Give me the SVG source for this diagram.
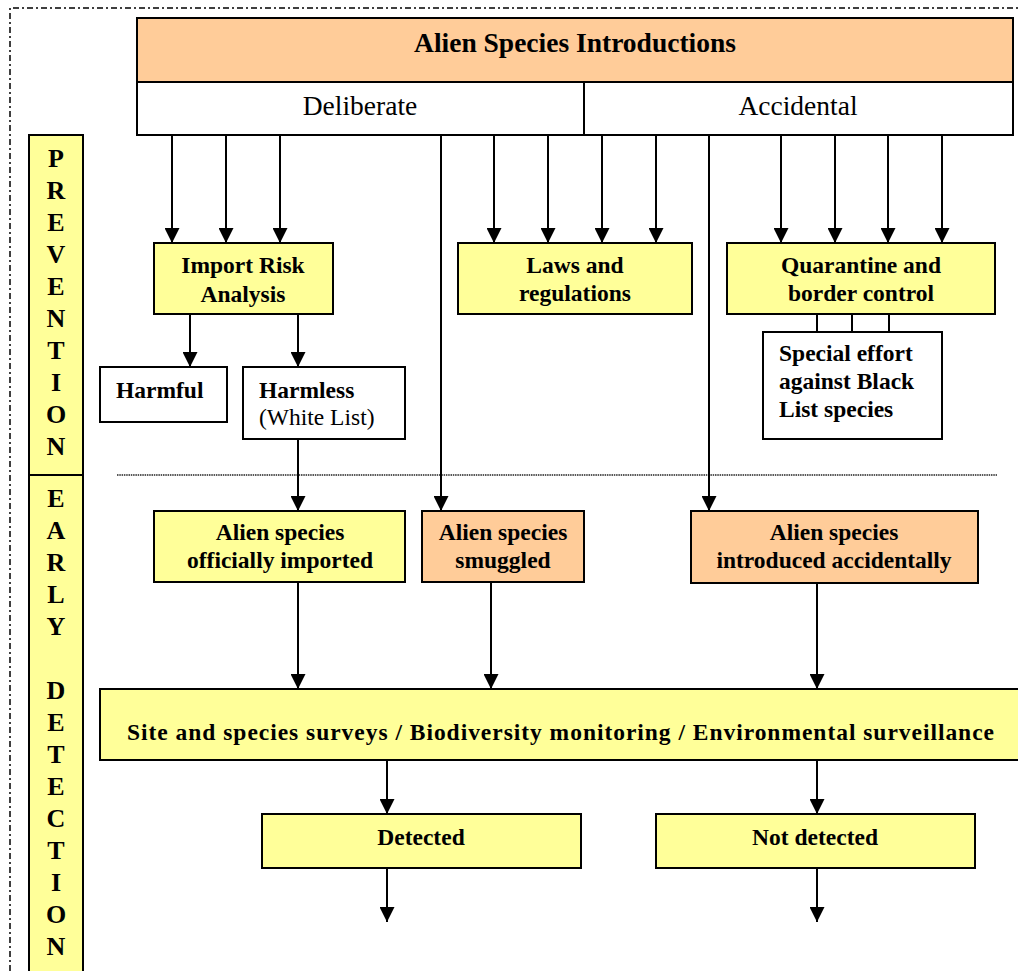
<svg xmlns="http://www.w3.org/2000/svg" width="1018" height="971" viewBox="0 0 1018 971">
<style>
text{font-family:"Liberation Serif","Times New Roman",serif;fill:#000}
.b{font-weight:bold;font-size:23.5px}
.t{font-weight:bold;font-size:27.5px}
.r{font-size:27.5px}
.s{font-weight:bold;font-size:26px}
.w{font-size:23.5px}
.box{stroke:#000;stroke-width:2}
.y{fill:#FFFF99}
.o{fill:#FFCC99}
.wh{fill:#fff}
.c line{stroke:#000;stroke-width:2}
</style>
<defs>
<marker id="ah" markerUnits="userSpaceOnUse" markerWidth="15" markerHeight="15" refX="15" refY="7.5" orient="auto">
<path d="M0,0 L15,7.5 L0,15 z" fill="#000"/>
</marker>
</defs>
<rect width="1018" height="971" fill="#fff"/>
<g id="frame">
<path d="M10,971 L10,8 L1018,8" fill="none" stroke="#000" stroke-width="1.5" stroke-dasharray="6 3 2 3"/>
<line x1="117" y1="475" x2="997" y2="475" stroke="#222" stroke-width="1.5" stroke-dasharray="1.5 0.8"/>
</g>
<g id="sidebar">
<rect class="box y" x="29" y="135" width="54" height="850"/>
<line x1="29" y1="475" x2="83" y2="475" stroke="#000" stroke-width="2"/>
<g class="s" text-anchor="middle">
<text x="56" y="167">P</text><text x="56" y="199">R</text><text x="56" y="231">E</text><text x="56" y="263">V</text><text x="56" y="295">E</text><text x="56" y="327">N</text><text x="56" y="359">T</text><text x="56" y="391">I</text><text x="56" y="423">O</text><text x="56" y="455">N</text>
<text x="56" y="507">E</text><text x="56" y="539">A</text><text x="56" y="571">R</text><text x="56" y="603">L</text><text x="56" y="635">Y</text>
<text x="56" y="699">D</text><text x="56" y="731">E</text><text x="56" y="763">T</text><text x="56" y="795">E</text><text x="56" y="827">C</text><text x="56" y="859">T</text><text x="56" y="891">I</text><text x="56" y="923">O</text><text x="56" y="955">N</text>
</g>
</g>
<g id="introductions">
<rect class="box o" x="137" y="18" width="876" height="64"/>
<rect class="box wh" x="137" y="82" width="876" height="53"/>
<line x1="584" y1="82" x2="584" y2="135" stroke="#000" stroke-width="2"/>
<text class="t" x="575" y="52" text-anchor="middle">Alien Species Introductions</text>
<text class="r" x="360" y="115" text-anchor="middle">Deliberate</text>
<text class="r" x="798" y="115" text-anchor="middle">Accidental</text>
</g>
<g id="import-risk">
<rect class="box y" x="154" y="243" width="179" height="71"/>
<text class="b" x="243" y="273" text-anchor="middle">Import Risk</text>
<text class="b" x="243" y="302" text-anchor="middle">Analysis</text>
</g>
<g id="laws">
<rect class="box y" x="458" y="243" width="234" height="71"/>
<text class="b" x="575" y="273" text-anchor="middle">Laws and</text>
<text class="b" x="575" y="301" text-anchor="middle">regulations</text>
</g>
<g id="quarantine">
<rect class="box y" x="727" y="243" width="268" height="71"/>
<text class="b" x="861" y="273" text-anchor="middle">Quarantine and</text>
<text class="b" x="861" y="301" text-anchor="middle">border control</text>
</g>
<g id="harmful">
<rect class="box wh" x="100" y="367" width="127" height="55"/>
<text class="b" x="116" y="398">Harmful</text>
</g>
<g id="harmless">
<rect class="box wh" x="243" y="367" width="162" height="72"/>
<text class="b" x="259" y="398">Harmless</text>
<text class="w" x="259" y="425">(White List)</text>
</g>
<g id="special-effort">
<rect class="box wh" x="763" y="332" width="179" height="107"/>
<text class="b" x="779" y="361">Special effort</text>
<text class="b" x="779" y="389">against Black</text>
<text class="b" x="779" y="417">List species</text>
</g>
<g id="officially-imported">
<rect class="box y" x="154" y="511" width="251" height="71"/>
<text class="b" x="280" y="540" text-anchor="middle">Alien species</text>
<text class="b" x="280" y="568" text-anchor="middle">officially imported</text>
</g>
<g id="smuggled">
<rect class="box o" x="422" y="511" width="162" height="71"/>
<text class="b" x="503" y="540" text-anchor="middle">Alien species</text>
<text class="b" x="503" y="568" text-anchor="middle">smuggled</text>
</g>
<g id="introduced-accidentally">
<rect class="box o" x="691" y="511" width="287" height="72"/>
<text class="b" x="834" y="540" text-anchor="middle">Alien species</text>
<text class="b" x="834" y="568" text-anchor="middle">introduced accidentally</text>
</g>
<g id="surveys">
<rect class="box y" x="100" y="689" width="930" height="71"/>
<text class="b" x="127" y="740" textLength="867" lengthAdjust="spacing">Site and species surveys / Biodiversity monitoring / Environmental surveillance</text>
</g>
<g id="detected">
<rect class="box y" x="262" y="814" width="319" height="54"/>
<text class="b" x="421" y="845" text-anchor="middle">Detected</text>
</g>
<g id="not-detected">
<rect class="box y" x="656" y="814" width="319" height="54"/>
<text class="b" x="815" y="845" text-anchor="middle">Not detected</text>
</g>
<g id="connectors" class="c">
<line x1="172" y1="135" x2="172" y2="243" marker-end="url(#ah)"/>
<line x1="226" y1="135" x2="226" y2="243" marker-end="url(#ah)"/>
<line x1="280" y1="135" x2="280" y2="243" marker-end="url(#ah)"/>
<line x1="441" y1="135" x2="441" y2="511" marker-end="url(#ah)"/>
<line x1="494" y1="135" x2="494" y2="243" marker-end="url(#ah)"/>
<line x1="548" y1="135" x2="548" y2="243" marker-end="url(#ah)"/>
<line x1="602" y1="135" x2="602" y2="243" marker-end="url(#ah)"/>
<line x1="656" y1="135" x2="656" y2="243" marker-end="url(#ah)"/>
<line x1="709" y1="135" x2="709" y2="511" marker-end="url(#ah)"/>
<line x1="781" y1="135" x2="781" y2="243" marker-end="url(#ah)"/>
<line x1="835" y1="135" x2="835" y2="243" marker-end="url(#ah)"/>
<line x1="888" y1="135" x2="888" y2="243" marker-end="url(#ah)"/>
<line x1="942" y1="135" x2="942" y2="243" marker-end="url(#ah)"/>
<line x1="190" y1="314" x2="190" y2="367" marker-end="url(#ah)"/>
<line x1="298" y1="314" x2="298" y2="367" marker-end="url(#ah)"/>
<line x1="817" y1="314" x2="817" y2="332"/>
<line x1="852" y1="314" x2="852" y2="332"/>
<line x1="889" y1="314" x2="889" y2="332"/>
<line x1="298" y1="439" x2="298" y2="511" marker-end="url(#ah)"/>
<line x1="298" y1="582" x2="298" y2="689" marker-end="url(#ah)"/>
<line x1="491" y1="582" x2="491" y2="689" marker-end="url(#ah)"/>
<line x1="817" y1="583" x2="817" y2="689" marker-end="url(#ah)"/>
<line x1="387" y1="760" x2="387" y2="814" marker-end="url(#ah)"/>
<line x1="817" y1="760" x2="817" y2="814" marker-end="url(#ah)"/>
<line x1="387" y1="868" x2="387" y2="922" marker-end="url(#ah)"/>
<line x1="817" y1="868" x2="817" y2="922" marker-end="url(#ah)"/>
</g>
</svg>
